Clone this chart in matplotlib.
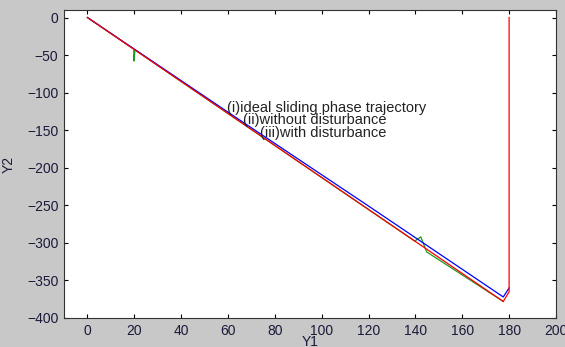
import numpy as np
import matplotlib.pyplot as plt

plt.rcParams['font.family'] = ['Liberation Sans', 'DejaVu Sans']

# trajectories
y1_ideal = [0, 177.5, 180, 180]
y2_ideal = [0, -378, -365, 0]

y1_nodist = [0, 60, 120, 177.5, 180]
y2_nodist = [0, -126, -251, -372, -360]

y1_dist = [0, 19.8, 19.8, 20.3, 139.7, 142.3, 144.8, 177.5]
y2_dist = [0, -42.2, -58, -43.2, -297.6, -292, -312, -378]

labels = ['(i)ideal sliding phase trajectory',
          '(ii)without disturbance',
          '(iii)with disturbance']
label_x = [59.5, 66.5, 73.5]
label_y = [-120, -137, -154]

fig = plt.figure(figsize=(5.65, 3.47), dpi=100, facecolor='#c8c8c8')
ax = fig.add_axes([0.1133, 0.0836, 0.8707, 0.8876])
ax.set_facecolor('white')

ax.plot(y1_dist, y2_dist, color='#1a9a1a', lw=0.9)
ax.plot(y1_nodist, y2_nodist, color='blue', lw=0.9)
ax.plot(y1_ideal, y2_ideal, color='red', lw=0.9)

for s, x, y in zip(labels, label_x, label_y):
    ax.text(x, y, s, fontsize=10.5, color='#222222', va='center', ha='left')

ax.set_xlim(-10, 200)
ax.set_ylim(-400, 10)
ax.set_xticks(np.arange(0, 201, 20))
ax.set_yticks(np.arange(-400, 1, 50))
ax.tick_params(direction='in', top=True, right=True, labelsize=10,
               labelcolor='#1a1a3a', length=3, width=0.8, pad=4)
for sp in ax.spines.values():
    sp.set_linewidth(0.8)
    sp.set_color('#333333')

ax.set_xlabel('Y1', fontsize=10, color='#1a1a3a', labelpad=-2)
ax.set_ylabel('Y2', fontsize=10, color='#1a1a3a', labelpad=8)

fig.savefig('out.png', dpi=100, facecolor=fig.get_facecolor())
